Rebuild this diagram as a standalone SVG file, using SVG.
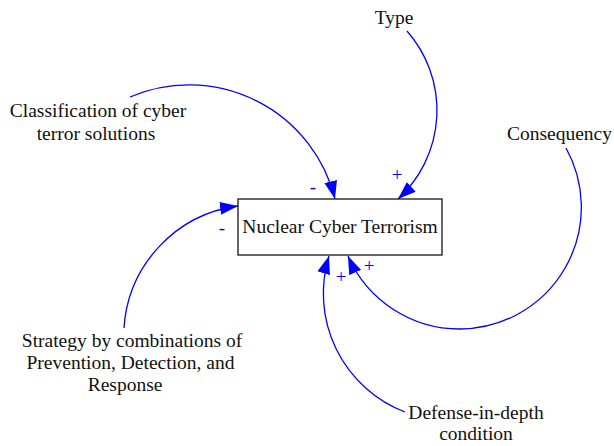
<svg xmlns="http://www.w3.org/2000/svg" width="614" height="446" viewBox="0 0 614 446">
<style>
.lbl{font-family:"Liberation Serif","Times New Roman",serif;font-size:19.5px;fill:#111;text-anchor:middle}
.pol{font-family:"Liberation Serif","Times New Roman",serif;font-size:19px;fill:#0000ff;text-anchor:middle}
.lnk{fill:none;stroke:#0000ff;stroke-width:1.3;marker-end:url(#ah)}
</style>
<defs>
<marker id="ah" markerUnits="userSpaceOnUse" viewBox="0 0 18 13" refX="18" refY="6.5" markerWidth="18" markerHeight="13" orient="auto">
<path d="M0,0 L18,6.5 L0,13 z" fill="#0000ff"/>
</marker>
</defs>
<rect width="614" height="446" fill="#fff"/>
<g id="connectors">
<path class="lnk" d="M130,97 A150.4,150.4 0 0 1 335,199"/>
<path class="lnk" d="M407,31 A120.2,120.2 0 0 1 398,199"/>
<path class="lnk" d="M566,148 A121.8,121.8 0 0 1 460,329 A121.8,121.8 0 0 1 348,256"/>
<path class="lnk" d="M405,412 A127,127 0 0 1 329,256"/>
<path class="lnk" d="M124,328 A131.5,131.5 0 0 1 238,206"/>
<text class="pol" x="313" y="193">-</text>
<text class="pol" x="397" y="181">+</text>
<text class="pol" x="222" y="234">-</text>
<text class="pol" x="341" y="283">+</text>
<text class="pol" x="369" y="272">+</text>
</g>
<g id="nuclear">
<rect x="238" y="199" width="204" height="56" fill="#fff" stroke="#000" stroke-width="1.2"/>
<text class="lbl" x="340" y="233">Nuclear Cyber Terrorism</text>
</g>
<g id="type"><text class="lbl" x="394" y="24">Type</text></g>
<g id="classification"><text class="lbl"><tspan x="98" y="117">Classification of cyber</tspan><tspan x="96" y="139.5">terror solutions</tspan></text></g>
<g id="consequency"><text class="lbl" x="559.5" y="140">Consequency</text></g>
<g id="strategy"><text class="lbl"><tspan x="132" y="346.5">Strategy by combinations of</tspan><tspan x="130.5" y="369">Prevention, Detection, and</tspan><tspan x="125" y="391">Response</tspan></text></g>
<g id="defense"><text class="lbl"><tspan x="476" y="418.5">Defense-in-depth</tspan><tspan x="476" y="440">condition</tspan></text></g>
</svg>
